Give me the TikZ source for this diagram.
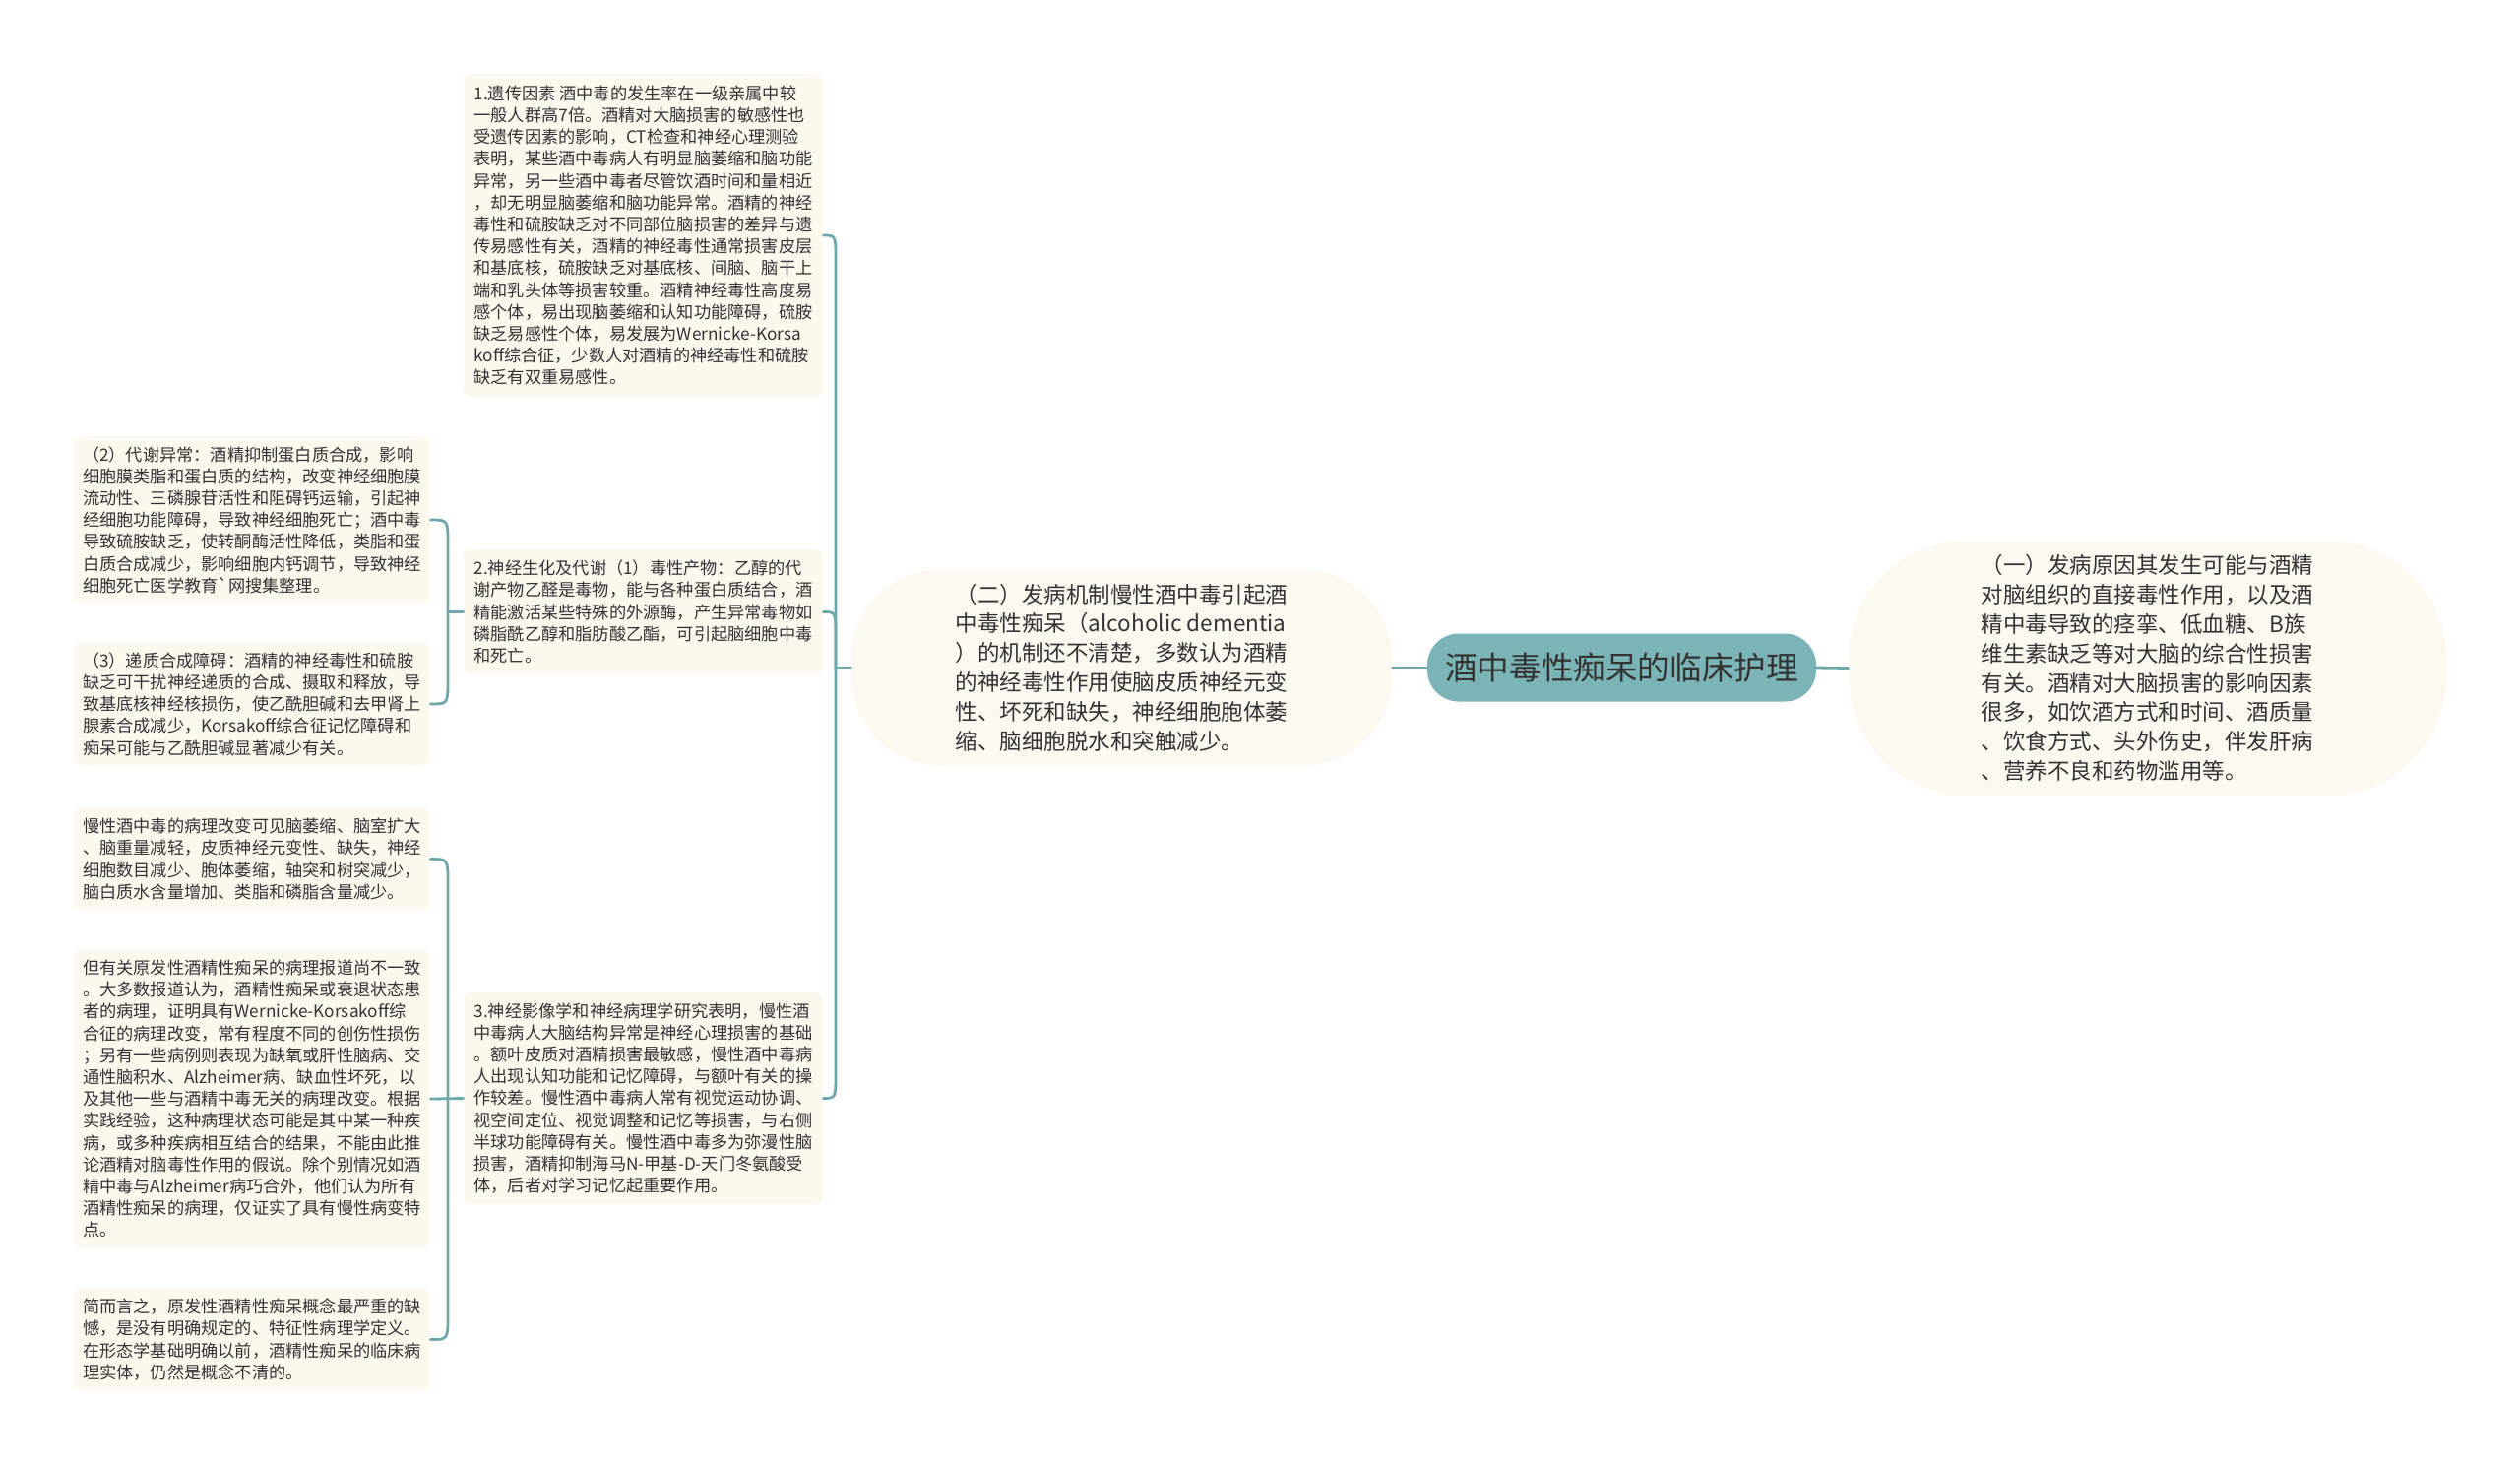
\documentclass[tikz,border=0pt]{standalone}
\usepackage{fontspec}
\newfontfamily\cjk{Noto Sans CJK SC}
\usetikzlibrary{calc}
\definecolor{teal1}{HTML}{6FA8AB}
\definecolor{rootfill}{HTML}{7AB4B6}
\definecolor{boxfill}{HTML}{FBF8EE}
\definecolor{ovalfill}{HTML}{FCFAF0}
\definecolor{txt}{HTML}{333333}
\tikzset{
 conn/.style={draw=teal1, line width=1.4pt, line cap=round},
 smallbox/.style={rectangle, rounded corners=4pt, fill=boxfill, align=left, inner sep=0pt, text=txt, font=\cjk\fontsize{8.6pt}{11.1pt}\selectfont},
 ovalbox/.style={rectangle, fill=ovalfill, align=left, inner sep=0pt, text=txt, font=\cjk\fontsize{11.25pt}{14.9pt}\selectfont},
 rootbox/.style={rectangle, rounded corners=16pt, fill=rootfill, text=txt, inner sep=0pt, minimum width=197.5pt, minimum height=34.5pt, font=\cjk\fontsize{16.3pt}{20pt}\selectfont}
}
\begin{document}
\begin{tikzpicture}[x=0.5pt,y=-0.5pt]
\fill[white] (0,0) rectangle (2560,1489);
\useasboundingbox (0,0) rectangle (2560,1489);

% root
\node[rootbox] (root) at (1647.5,678) {酒中毒性痴呆的临床护理};

% right oval
\node[ovalbox, rounded corners=60pt, minimum width=303.5pt, minimum height=129.5pt] (one) at (2181.5,678.5)
{（一）发病原因其发生可能与酒精\\
对脑组织的直接毒性作用，以及酒\\
精中毒导致的痉挛、低血糖、B族\\
维生素缺乏等对大脑的综合性损害\\
有关。酒精对大脑损害的影响因素\\
很多，如饮酒方式和时间、酒质量\\
、饮食方式、头外伤史，伴发肝病\\
、营养不良和药物滥用等。};

% left oval
\node[ovalbox, rounded corners=45pt, minimum width=274.5pt, minimum height=99.5pt] (two) at (1139.5,678)
{（二）发病机制慢性酒中毒引起酒\\
中毒性痴呆（alcoholic dementia\\
）的机制还不清楚，多数认为酒精\\
的神经毒性作用使脑皮质神经元变\\
性、坏死和缺失，神经细胞胞体萎\\
缩、脑细胞脱水和突触减少。};

% level 2 boxes
\node[smallbox, minimum width=182.5pt, minimum height=164pt] (n1) at (653.5,239)
{1.遗传因素 酒中毒的发生率在一级亲属中较\\
一般人群高7倍。酒精对大脑损害的敏感性也\\
受遗传因素的影响，CT检查和神经心理测验\\
表明，某些酒中毒病人有明显脑萎缩和脑功能\\
异常，另一些酒中毒者尽管饮酒时间和量相近\\
，却无明显脑萎缩和脑功能异常。酒精的神经\\
毒性和硫胺缺乏对不同部位脑损害的差异与遗\\
传易感性有关，酒精的神经毒性通常损害皮层\\
和基底核，硫胺缺乏对基底核、间脑、脑干上\\
端和乳头体等损害较重。酒精神经毒性高度易\\
感个体，易出现脑萎缩和认知功能障碍，硫胺\\
缺乏易感性个体，易发展为Wernicke-Korsa\\
koff综合征，少数人对酒精的神经毒性和硫胺\\
缺乏有双重易感性。};

\node[smallbox, minimum width=182.5pt, minimum height=63.5pt] (n2) at (653.5,621.5)
{2.神经生化及代谢（1）毒性产物：乙醇的代\\
谢产物乙醛是毒物，能与各种蛋白质结合，酒\\
精能激活某些特殊的外源酶，产生异常毒物如\\
磷脂酰乙醇和脂肪酸乙酯，可引起脑细胞中毒\\
和死亡。};

\node[smallbox, minimum width=182.5pt, minimum height=107.5pt] (n3) at (653.5,1115.5)
{3.神经影像学和神经病理学研究表明，慢性酒\\
中毒病人大脑结构异常是神经心理损害的基础\\
。额叶皮质对酒精损害最敏感，慢性酒中毒病\\
人出现认知功能和记忆障碍，与额叶有关的操\\
作较差。慢性酒中毒病人常有视觉运动协调、\\
视空间定位、视觉调整和记忆等损害，与右侧\\
半球功能障碍有关。慢性酒中毒多为弥漫性脑\\
损害，酒精抑制海马N-甲基-D-天门冬氨酸受\\
体，后者对学习记忆起重要作用。};

% level 3 boxes
\node[smallbox, minimum width=181pt, minimum height=85pt] (c2) at (256,528)
{（2）代谢异常：酒精抑制蛋白质合成，影响\\
细胞膜类脂和蛋白质的结构，改变神经细胞膜\\
流动性、三磷腺苷活性和阻碍钙运输，引起神\\
经细胞功能障碍，导致神经细胞死亡；酒中毒\\
导致硫胺缺乏，使转酮酶活性降低，类脂和蛋\\
白质合成减少，影响细胞内钙调节，导致神经\\
细胞死亡医学教育{\char"60}网搜集整理。};

\node[smallbox, minimum width=181pt, minimum height=62pt] (c3) at (256,715)
{（3）递质合成障碍：酒精的神经毒性和硫胺\\
缺乏可干扰神经递质的合成、摄取和释放，导\\
致基底核神经核损伤，使乙酰胆碱和去甲肾上\\
腺素合成减少，Korsakoff综合征记忆障碍和\\
痴呆可能与乙酰胆碱显著减少有关。};

\node[smallbox, minimum width=181pt, minimum height=52.5pt] (cA) at (256,872.5)
{慢性酒中毒的病理改变可见脑萎缩、脑室扩大\\
、脑重量减轻，皮质神经元变性、缺失，神经\\
细胞数目减少、胞体萎缩，轴突和树突减少，\\
脑白质水含量增加、类脂和磷脂含量减少。};

\node[smallbox, minimum width=181pt, minimum height=151pt] (cB) at (256,1116)
{但有关原发性酒精性痴呆的病理报道尚不一致\\
。大多数报道认为，酒精性痴呆或衰退状态患\\
者的病理，证明具有Wernicke-Korsakoff综\\
合征的病理改变，常有程度不同的创伤性损伤\\
；另有一些病例则表现为缺氧或肝性脑病、交\\
通性脑积水、Alzheimer病、缺血性坏死，以\\
及其他一些与酒精中毒无关的病理改变。根据\\
实践经验，这种病理状态可能是其中某一种疾\\
病，或多种疾病相互结合的结果，不能由此推\\
论酒精对脑毒性作用的假说。除个别情况如酒\\
精中毒与Alzheimer病巧合外，他们认为所有\\
酒精性痴呆的病理，仅证实了具有慢性病变特\\
点。};

\node[smallbox, minimum width=181pt, minimum height=52.5pt] (cC) at (256,1360.5)
{简而言之，原发性酒精性痴呆概念最严重的缺\\
憾，是没有明确规定的、特征性病理学定义。\\
在形态学基础明确以前，酒精性痴呆的临床病\\
理实体，仍然是概念不清的。};

% connectors
\draw[conn] (root.west) -- (two.east);
\draw[conn] (root.east) -- (one.west);

\coordinate (t0) at (849,678);
\draw[conn] (two.west) -- (t0);
\draw[conn] (t0) -- ($(t0 |- n1.east)+(0,26)$) .. controls (t0 |- n1.east) .. (n1.east);
\draw[conn] (t0) -- ($(t0 |- n2.east)+(0,26)$) .. controls (t0 |- n2.east) .. (n2.east);
\draw[conn] (t0) -- ($(t0 |- n3.east)+(0,-26)$) .. controls (t0 |- n3.east) .. (n3.east);

\coordinate (t1) at (455,621.5);
\draw[conn] (n2.west) -- (t1);
\draw[conn] (t1) -- ($(t1 |- c2.east)+(0,24)$) .. controls (t1 |- c2.east) .. (c2.east);
\draw[conn] (t1) -- ($(t1 |- c3.east)+(0,-24)$) .. controls (t1 |- c3.east) .. (c3.east);

\coordinate (t2) at (455,1115.5);
\draw[conn] (n3.west) -- (cB.east);
\draw[conn] (t2) -- ($(t2 |- cA.east)+(0,24)$) .. controls (t2 |- cA.east) .. (cA.east);
\draw[conn] (t2) -- ($(t2 |- cC.east)+(0,-24)$) .. controls (t2 |- cC.east) .. (cC.east);
\end{tikzpicture}
\end{document}
